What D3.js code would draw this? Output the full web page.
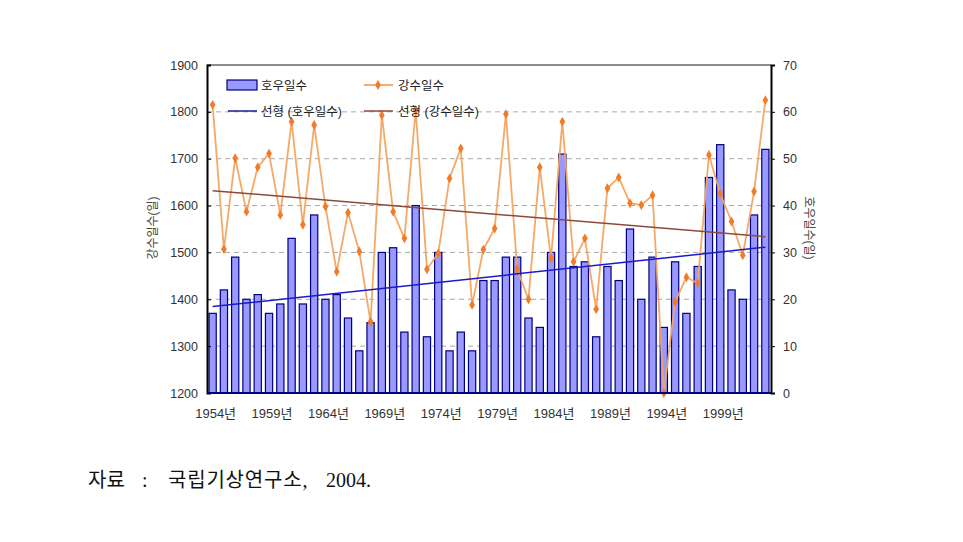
<!DOCTYPE html>
<html><head><meta charset="utf-8">
<script src="https://cdn.jsdelivr.net/npm/d3@7"></script>
<style>
body{margin:0;background:#fff;}
svg{display:block;}
</style></head>
<body>
<svg id="c" width="963" height="542"></svg>
<script>
const years = d3.range(1954, 2004);
const yearLabels = ["1954년","1959년","1964년","1969년","1974년","1979년","1984년","1989년","1994년","1999년"];
// 호우일수 (bars, right axis, days)
const heavyRainDays = [17,22,29,20,21,17,19,33,19,38,20,21,16,9,15,30,31,13,40,12,30,9,13,9,24,24,29,29,16,14,30,51,27,28,12,27,24,35,20,29,14,28,17,27,46,53,22,20,38,52];
// 강수일수 (line, left axis)
const rainDays = [1815,1507,1701,1587,1682,1711,1580,1779,1559,1772,1598,1459,1585,1502,1352,1793,1587,1530,1804,1464,1498,1658,1722,1388,1506,1551,1795,1464,1400,1682,1487,1779,1480,1530,1379,1637,1660,1605,1601,1622,1200,1395,1447,1434,1708,1625,1566,1494,1630,1825];
const leftTicks = [1200,1300,1400,1500,1600,1700,1800,1900];
const rightTicks = [0,10,20,30,40,50,60,70];

const svg = d3.select("#c");
const L = 207, R = 771, T = 65, B = 393;
const x = d3.scaleBand().domain(years).range([L, R]).paddingInner(0.36).paddingOuter(0.18);
const yL = d3.scaleLinear().domain([1200,1900]).range([B, T]);
const yR = d3.scaleLinear().domain([0,70]).range([B, T]);
const font = "Arial, 'Liberation Sans', 'Noto Sans CJK KR', sans-serif";

// grid
svg.append("g").selectAll("line").data(leftTicks.slice(1, -1)).join("line")
  .attr("x1", L).attr("x2", R).attr("y1", d => yL(d)).attr("y2", d => yL(d))
  .attr("stroke", "#a8a8a8").attr("stroke-dasharray", "5,4").attr("stroke-width", 1);

// frame top
svg.append("line").attr("x1", L).attr("x2", R).attr("y1", T).attr("y2", T).attr("stroke", "#666").attr("stroke-width", 1.5);

// bars
svg.append("g").selectAll("rect").data(heavyRainDays).join("rect")
  .attr("x", (d, i) => x(years[i]))
  .attr("y", d => yR(d))
  .attr("width", x.bandwidth())
  .attr("height", d => B - yR(d))
  .attr("fill", "#9999ff").attr("stroke", "#000080").attr("stroke-width", 1.2);

// regression helper
function linreg(vals) {
  const n = vals.length, xs = d3.range(n);
  const mx = d3.mean(xs), my = d3.mean(vals);
  let num = 0, den = 0;
  xs.forEach((xi, i) => { num += (xi - mx) * (vals[i] - my); den += (xi - mx) ** 2; });
  const b = num / den, a = my - b * mx;
  return [a, a + b * (n - 1)];
}
const cx = i => x(years[i]) + x.bandwidth() / 2;

// line series
const line = d3.line().x((d, i) => cx(i)).y(d => yL(d));
svg.append("path").datum(rainDays).attr("d", line)
  .attr("fill", "none").attr("stroke", "#f4a460").attr("stroke-width", 1.8).attr("stroke-opacity", 0.95);
svg.append("g").selectAll("path").data(rainDays).join("path")
  .attr("transform", (d, i) => `translate(${cx(i)},${yL(d)})`)
  .attr("d", d3.symbol(d3.symbolDiamond, 28))
  .attr("fill", "#f07b28");

// trend lines
const tb = linreg(heavyRainDays);
svg.append("line").attr("x1", cx(0)).attr("x2", cx(years.length - 1))
  .attr("y1", yR(tb[0])).attr("y2", yR(tb[1])).attr("stroke", "#1a1acc").attr("stroke-width", 1.5);
const tl = linreg(rainDays);
svg.append("line").attr("x1", cx(0)).attr("x2", cx(years.length - 1))
  .attr("y1", yL(tl[0])).attr("y2", yL(tl[1])).attr("stroke", "#8b4a3a").attr("stroke-width", 1.5);

// axes
const gl = svg.append("g").attr("transform", `translate(${L},0)`)
  .call(d3.axisLeft(yL).tickValues(leftTicks).tickSize(-4).tickPadding(9).tickFormat(d3.format("d")));
const gr = svg.append("g").attr("transform", `translate(${R},0)`)
  .call(d3.axisRight(yR).tickValues(rightTicks).tickSize(4).tickPadding(8));
[gl, gr].forEach(g => {
  g.select(".domain").attr("stroke", "#000").attr("stroke-width", 2);
  g.selectAll(".tick line").attr("stroke", "#000");
  g.selectAll("text").attr("font-family", font).attr("font-size", 12.5).attr("fill", "#333");
});
svg.append("line").attr("x1", L).attr("x2", R).attr("y1", B).attr("y2", B).attr("stroke", "#000080").attr("stroke-width", 2);

// x labels
svg.append("g").selectAll("text").data(yearLabels).join("text")
  .attr("x", d => cx(years.indexOf(+d.slice(0, 4))) + 3)
  .attr("y", 418).attr("text-anchor", "middle")
  .attr("font-family", font).attr("font-size", 13).attr("fill", "#333").text(d => d);

// axis titles
svg.append("text").attr("transform", "translate(157,228) rotate(-90)").attr("text-anchor", "middle")
  .attr("font-family", font).attr("font-size", 12).attr("fill", "#444").text("강수일수(일)");
svg.append("text").attr("transform", "translate(805,228) rotate(90)").attr("text-anchor", "middle")
  .attr("font-family", font).attr("font-size", 12).attr("fill", "#444").text("호우일수(일)");

// legend
const lg = svg.append("g").attr("font-family", font).attr("font-size", 12.5).attr("fill", "#222");
lg.append("rect").attr("x", 227).attr("y", 80).attr("width", 30).attr("height", 10).attr("fill", "#9999ff").attr("stroke", "#000080").attr("stroke-width", 1.2);
lg.append("text").attr("x", 261).attr("y", 90).text("호우일수");
lg.append("line").attr("x1", 364).attr("x2", 393).attr("y1", 85).attr("y2", 85).attr("stroke", "#f4a460").attr("stroke-width", 1.8);
lg.append("path").attr("transform", "translate(378,85)").attr("d", d3.symbol(d3.symbolDiamond, 28)).attr("fill", "#f07b28");
lg.append("text").attr("x", 398).attr("y", 90).text("강수일수");
lg.append("line").attr("x1", 228).attr("x2", 257).attr("y1", 111).attr("y2", 111).attr("stroke", "#1a1a99").attr("stroke-width", 1.5);
lg.append("text").attr("x", 261).attr("y", 116).text("선형 (호우일수)");
lg.append("line").attr("x1", 364).attr("x2", 393).attr("y1", 111).attr("y2", 111).attr("stroke", "#8b4a3a").attr("stroke-width", 1.5);
lg.append("text").attr("x", 398).attr("y", 116).text("선형 (강수일수)");

// caption
const cap = svg.append("g").attr("font-family", "'Liberation Serif', 'Noto Sans CJK KR', serif")
  .attr("font-size", 20).attr("fill", "#111");
cap.append("text").attr("x", 88).attr("y", 487).text("자료");
cap.append("text").attr("x", 142).attr("y", 487).text(":");
cap.append("text").attr("x", 168).attr("y", 487).attr("letter-spacing", 0.8).text("국립기상연구소,");
cap.append("text").attr("x", 326).attr("y", 487).text("2004.");
</script>
</body></html>
